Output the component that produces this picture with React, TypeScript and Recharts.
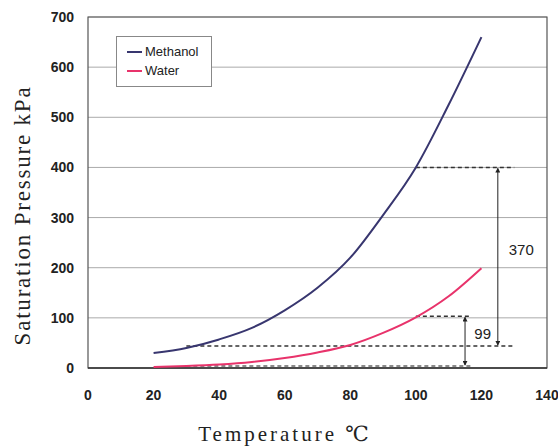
import { LineChart, Line, XAxis, YAxis, CartesianGrid, ReferenceLine, ReferenceArea, ReferenceDot } from "recharts";

const temps = [20, 30, 40, 50, 60, 70, 80, 90, 100, 110, 120];
const methanol = [30, 40, 57, 80, 115, 160, 220, 305, 400, 525, 660];
const water = [2, 4, 7, 12, 20, 31, 46, 70, 101, 143, 199];
const xTicks = [0, 20, 40, 60, 80, 100, 120, 140];
const yTicks = [0, 100, 200, 300, 400, 500, 600, 700];

const data = temps.map((t, i) => ({ t, methanol: methanol[i], water: water[i] }));

const NAVY = "#38366f";
const PINK = "#e8336b";
const sans = "'Liberation Sans Narrow', 'Liberation Sans', Arial, sans-serif";
const serif = "'Liberation Serif', 'DejaVu Serif', serif";
const tickStyle = { fontFamily: sans, fontSize: 14, fill: "#222", fontWeight: 600 };

function LegendBox() {
  const row = (color: string, name: string) => (
    <div style={{ display: "flex", alignItems: "center", height: 19 }}>
      <span style={{ display: "inline-block", width: 15, height: 2, background: color, marginRight: 3 }} />
      <span>{name}</span>
    </div>
  );
  return (
    <div
      style={{
        position: "absolute",
        left: 116,
        top: 36,
        width: 96,
        height: 51,
        boxSizing: "border-box",
        border: "1px solid #888",
        background: "#fff",
        padding: "5px 10px",
        fontFamily: sans,
        fontSize: 13,
        color: "#222",
      }}
    >
      {row(NAVY, "Methanol")}
      {row(PINK, "Water")}
    </div>
  );
}

function YLabel(props: any) {
  const vb = props.viewBox || { x: 0, y: 0, height: 0 };
  const x = 22;
  const y = vb.y + vb.height / 2 + 23;
  return (
    <text x={x} y={y} transform={`rotate(-90 ${x} ${y})`} textAnchor="middle" dominantBaseline="central"
      style={{ fontFamily: serif, fontSize: 23, letterSpacing: 1.8, fill: "#222" }}>
      Saturation Pressure kPa
    </text>
  );
}

function XLabel() {
  return (
    <text x={285} y={434} textAnchor="middle" dominantBaseline="central"
      style={{ fontFamily: serif, fontSize: 21, letterSpacing: 3, fill: "#222" }}>
      Temperature ℃
    </text>
  );
}

export default function App() {
  return (
    <div style={{ position: "absolute", left: 0, top: 0, width: 558, height: 448, background: "#fff" }}>
      <LineChart width={558} height={448} data={data} margin={{ top: 17, right: 11, left: 0, bottom: 0 }}>
        <defs>
          <marker id="arr" viewBox="0 0 6 6" refX="5" refY="3" markerWidth="5" markerHeight="5" orient="auto-start-reverse">
            <path d="M0,0 L6,3 L0,6 z" fill="#222" />
          </marker>
        </defs>
        <CartesianGrid vertical={false} stroke="#aaa" />
        <XAxis
          type="number"
          dataKey="t"
          domain={[0, 140]}
          ticks={xTicks}
          height={80}
          tickLine={false}
          axisLine={false}
          tickMargin={16}
          tick={tickStyle}
          label={<XLabel />}
        />
        <YAxis
          type="number"
          domain={[0, 700]}
          ticks={yTicks}
          width={88}
          tickLine={false}
          axisLine={false}
          tickMargin={8}
          tick={tickStyle}
          label={<YLabel />}
        />
        <ReferenceArea x1={0} x2={140} y1={0} y2={700} fill="none" stroke="#555" strokeWidth={1.2} />
        <ReferenceLine y={0} stroke="#333" strokeWidth={1.5} />

        <ReferenceLine segment={[{ x: 100, y: 400 }, { x: 130, y: 400 }]} stroke="#333" strokeDasharray="4 3" strokeWidth={1.5} />
        <ReferenceLine segment={[{ x: 30, y: 44 }, { x: 130, y: 44 }]} stroke="#333" strokeDasharray="4 3" strokeWidth={1.5} />
        <ReferenceLine segment={[{ x: 100, y: 103 }, { x: 116.5, y: 103 }]} stroke="#333" strokeDasharray="4 3" strokeWidth={1.5} />
        <ReferenceLine segment={[{ x: 30, y: 4 }, { x: 117, y: 4 }]} stroke="#666" strokeDasharray="4 3" strokeWidth={1.5} />
        <ReferenceLine segment={[{ x: 125, y: 398 }, { x: 125, y: 46 }]} stroke="#222" strokeWidth={1} markerStart="url(#arr)" markerEnd="url(#arr)" />
        <ReferenceLine segment={[{ x: 115, y: 101 }, { x: 115, y: 6 }]} stroke="#222" strokeWidth={1} markerStart="url(#arr)" markerEnd="url(#arr)" />
        <ReferenceDot x={126.5} y={235} r={1} fill="none" stroke="none" label={{ value: "370", position: "right", style: { fontFamily: sans, fontSize: 15, fill: "#222" } }} />
        <ReferenceDot x={116} y={68} r={1} fill="none" stroke="none" label={{ value: "99", position: "right", style: { fontFamily: sans, fontSize: 15, fill: "#222" } }} />

        <Line type="monotone" dataKey="methanol" stroke={NAVY} strokeWidth={2} dot={false} isAnimationActive={false} />
        <Line type="monotone" dataKey="water" stroke={PINK} strokeWidth={2} dot={false} isAnimationActive={false} />
      </LineChart>
      <LegendBox />
    </div>
  );
}
